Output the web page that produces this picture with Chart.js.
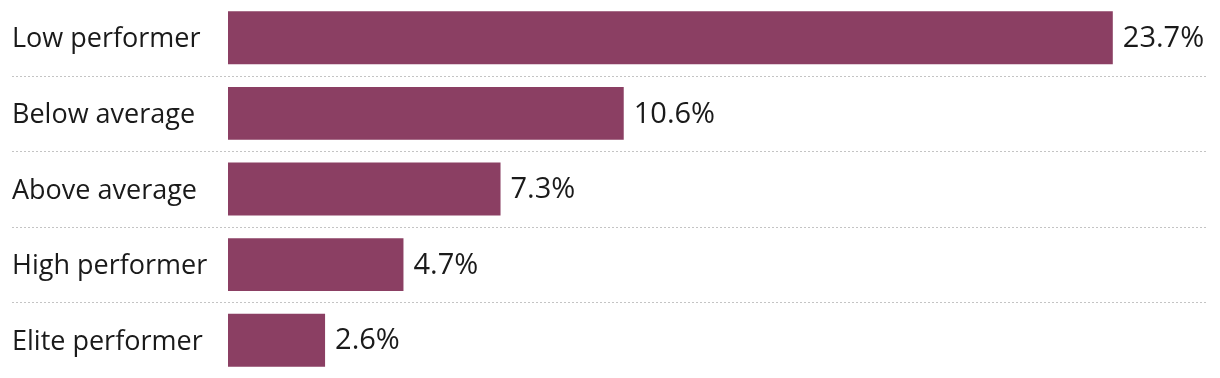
<!DOCTYPE html>
<html>
<head>
<meta charset="utf-8">
<script src="https://cdn.jsdelivr.net/npm/chart.js@4"></script>
<style>
  html, body { margin: 0; padding: 0; background: #fff; }
  #wrap { width: 1220px; height: 378px; }
</style>
</head>
<body>
<div id="wrap"><canvas id="graficoPerformers"></canvas></div>
<script>
const categorias = ['Low performer', 'Below average', 'Above average', 'High performer', 'Elite performer'];
const valores = [23.7, 10.6, 7.3, 4.7, 2.6];
const etiquetas = ['23.7%', '10.6%', '7.3%', '4.7%', '2.6%'];

const fuente = '"Open Sans", Lato, sans-serif';

// etiquetas de valor al final de cada barra + separadores punteados
const extras = {
    id: 'extras',
    afterDatasetsDraw(chart) {
        const ctx = chart.ctx;
        const meta = chart.getDatasetMeta(0);
        const y = chart.scales.y;
        ctx.save();
        ctx.strokeStyle = '#c4c4c4';
        ctx.lineWidth = 1;
        ctx.setLineDash([2, 2]);
        for (let i = 0; i < categorias.length - 1; i++) {
            const yy = Math.round((y.getPixelForValue(i) + y.getPixelForValue(i + 1)) / 2) + 0.5;
            ctx.beginPath();
            ctx.moveTo(12, yy);
            ctx.lineTo(1208, yy);
            ctx.stroke();
        }
        ctx.setLineDash([]);
        ctx.fillStyle = '#1a1a1a';
        ctx.font = '29px ' + fuente;
        ctx.textBaseline = 'middle';
        ctx.textAlign = 'left';
        meta.data.forEach((bar, i) => {
            ctx.fillText(etiquetas[i], bar.x + 10, bar.y + 1);
        });
        ctx.restore();
    }
};

const ctx = document.getElementById('graficoPerformers').getContext('2d');
new Chart(ctx, {
    type: 'bar',
    data: {
        labels: categorias,
        datasets: [{
            data: valores,
            backgroundColor: '#8b3f63',
            borderWidth: 0,
            categoryPercentage: 0.7,
            barPercentage: 1
        }]
    },
    options: {
        indexAxis: 'y',
        responsive: true,
        maintainAspectRatio: false,
        animation: false,
        layout: { padding: { left: 12, right: 12, top: 0, bottom: 0 } },
        plugins: {
            legend: { display: false },
            tooltip: { enabled: false }
        },
        scales: {
            x: {
                display: false,
                min: 0,
                max: 26.25
            },
            y: {
                grid: { display: false },
                border: { display: false },
                ticks: {
                    crossAlign: 'far',
                    padding: 0,
                    labelOffset: 2,
                    color: '#1a1a1a',
                    font: { family: fuente, size: 27 }
                },
                afterFit(scale) {
                    scale.width = 216;
                    scale.paddingTop = 0;
                    scale.paddingBottom = 0;
                }
            }
        }
    },
    plugins: [extras]
});
</script>
</body>
</html>
